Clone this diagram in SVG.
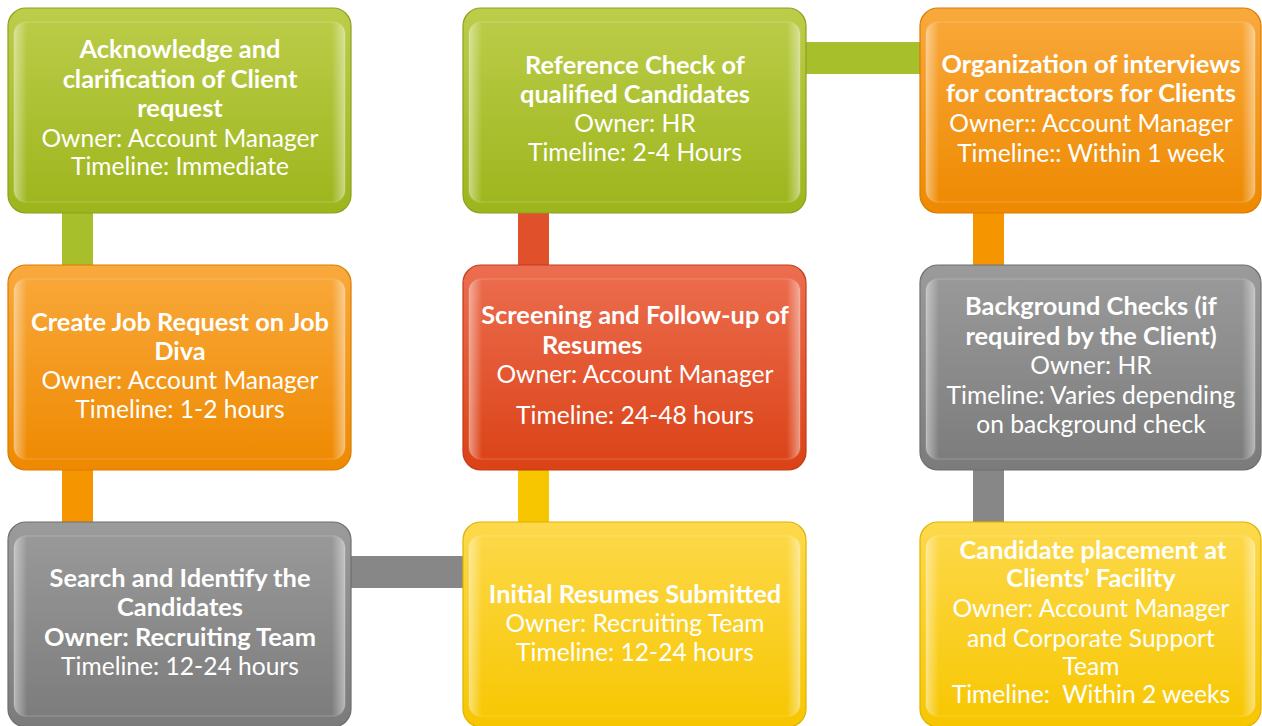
<svg xmlns="http://www.w3.org/2000/svg" width="1262" height="726" viewBox="0 0 1262 726">
<defs>
<linearGradient id="gGreen" x1="0" y1="0" x2="0" y2="1"><stop offset="0" stop-color="#bccd4a"/><stop offset="1" stop-color="#9db51c"/></linearGradient>
<linearGradient id="gOrange" x1="0" y1="0" x2="0" y2="1"><stop offset="0" stop-color="#f9a93c"/><stop offset="1" stop-color="#ee8900"/></linearGradient>
<linearGradient id="gRed" x1="0" y1="0" x2="0" y2="1"><stop offset="0" stop-color="#ec6e50"/><stop offset="1" stop-color="#db4216"/></linearGradient>
<linearGradient id="gGray" x1="0" y1="0" x2="0" y2="1"><stop offset="0" stop-color="#9b9b9b"/><stop offset="1" stop-color="#7b7b7b"/></linearGradient>
<linearGradient id="gYellow" x1="0" y1="0" x2="0" y2="1"><stop offset="0" stop-color="#fdd94c"/><stop offset="1" stop-color="#f7c600"/></linearGradient>
<linearGradient id="rim" x1="0" y1="0" x2="1" y2="0"><stop offset="0" stop-color="#fff" stop-opacity="0.45"/><stop offset="0.04" stop-color="#fff" stop-opacity="0"/><stop offset="0.96" stop-color="#fff" stop-opacity="0"/><stop offset="1" stop-color="#fff" stop-opacity="0.45"/></linearGradient>
</defs>
<style>
.box{stroke-width:1.2}
.green{fill:url(#gGreen);stroke:#8ea020}
.orange{fill:url(#gOrange);stroke:#d97c00}
.red{fill:url(#gRed);stroke:#c03c18}
.gray{fill:url(#gGray);stroke:#6e6e6e}
.yellow{fill:url(#gYellow);stroke:#ddb300}
.bevel{fill:url(#rim);stroke:#ffffff;stroke-opacity:0.1;stroke-width:2}
text{font-family:"Lato","Carlito","Liberation Sans",sans-serif;font-size:24.6px;fill:#ffffff;text-anchor:middle}
.b{font-weight:bold;font-size:25.4px}
.c-green{fill:#a8bf2c}
.c-orange{fill:#f59600}
.c-red{fill:#e0502a}
.c-gray{fill:#878787}
.c-yellow{fill:#f7c600}
</style>
<g id="connectors">
<rect class="c-green" x="62" y="212" width="31" height="54"/>
<rect class="c-orange" x="62" y="469" width="31" height="54"/>
<rect class="c-gray" x="350" y="556" width="114" height="32"/>
<rect class="c-yellow" x="518" y="469" width="31" height="54"/>
<rect class="c-red" x="518" y="212" width="31" height="54"/>
<rect class="c-green" x="805" y="42" width="116" height="32"/>
<rect class="c-orange" x="973" y="212" width="31" height="54"/>
<rect class="c-gray" x="973" y="469" width="31" height="54"/>
</g>
<g id="n1">
<rect class="box green" x="8" y="8" width="343" height="205" rx="18"/>
<rect class="bevel" x="14" y="22" width="331" height="180" rx="12"/>
<text x="180" y="58" class="b">Acknowledge and</text>
<text x="180" y="88" class="b">clarification of Client</text>
<text x="180" y="117" class="b">request</text>
<text x="180" y="147">Owner: Account Manager</text>
<text x="180" y="175">Timeline: Immediate</text>
</g>
<g id="n2">
<rect class="box orange" x="8" y="265" width="343" height="205" rx="18"/>
<rect class="bevel" x="14" y="279" width="331" height="180" rx="12"/>
<text x="180" y="331" class="b">Create Job Request on Job</text>
<text x="180" y="360" class="b">Diva</text>
<text x="180" y="389">Owner: Account Manager</text>
<text x="180" y="418">Timeline: 1-2 hours</text>
</g>
<g id="n3">
<rect class="box gray" x="8" y="522" width="343" height="205" rx="18"/>
<rect class="bevel" x="14" y="536" width="331" height="180" rx="12"/>
<text x="180" y="587" class="b">Search and Identify the</text>
<text x="180" y="616" class="b">Candidates</text>
<text x="180" y="646" class="b">Owner: Recruiting Team</text>
<text x="180" y="675">Timeline: 12-24 hours</text>
</g>
<g id="n4">
<rect class="box green" x="463" y="8" width="343" height="205" rx="18"/>
<rect class="bevel" x="469" y="22" width="331" height="180" rx="12"/>
<text x="635" y="74" class="b">Reference Check of</text>
<text x="635" y="103" class="b">qualified Candidates</text>
<text x="635" y="132">Owner: HR</text>
<text x="635" y="161">Timeline: 2-4 Hours</text>
</g>
<g id="n5">
<rect class="box red" x="463" y="265" width="343" height="205" rx="18"/>
<rect class="bevel" x="469" y="279" width="331" height="180" rx="12"/>
<text x="635" y="324" class="b">Screening and Follow-up of</text>
<text x="542" y="354" class="b" style="text-anchor:start">Resumes</text>
<text x="635" y="383">Owner: Account Manager</text>
<text x="635" y="424">Timeline: 24-48 hours</text>
</g>
<g id="n6">
<rect class="box yellow" x="463" y="522" width="343" height="205" rx="18"/>
<rect class="bevel" x="469" y="536" width="331" height="180" rx="12"/>
<text x="635" y="603" class="b">Initial Resumes Submitted</text>
<text x="635" y="632">Owner: Recruiting Team</text>
<text x="635" y="661">Timeline: 12-24 hours</text>
</g>
<g id="n7">
<rect class="box orange" x="920" y="8" width="341" height="205" rx="18"/>
<rect class="bevel" x="926" y="22" width="329" height="180" rx="12"/>
<text x="1091" y="73" class="b">Organization of interviews</text>
<text x="1091" y="102" class="b">for contractors for Clients</text>
<text x="1091" y="132">Owner:: Account Manager</text>
<text x="1091" y="162">Timeline:: Within 1 week</text>
</g>
<g id="n8">
<rect class="box gray" x="920" y="265" width="341" height="205" rx="18"/>
<rect class="bevel" x="926" y="279" width="329" height="180" rx="12"/>
<text x="1091" y="315" class="b">Background Checks (if</text>
<text x="1091" y="345" class="b">required by the Client)</text>
<text x="1091" y="374">Owner: HR</text>
<text x="1091" y="404">Timeline: Varies depending</text>
<text x="1091" y="433">on background check</text>
</g>
<g id="n9">
<rect class="box yellow" x="920" y="522" width="341" height="205" rx="18"/>
<rect class="bevel" x="926" y="536" width="329" height="180" rx="12"/>
<text x="1093" y="559" class="b">Candidate placement at</text>
<text x="1091" y="587" class="b">Clients’ Facility</text>
<text x="1091" y="617">Owner: Account Manager</text>
<text x="1091" y="647">and Corporate Support</text>
<text x="1091" y="675">Team</text>
<text x="1091" y="703" style="white-space:pre">Timeline:  Within 2 weeks</text>
</g>
</svg>
